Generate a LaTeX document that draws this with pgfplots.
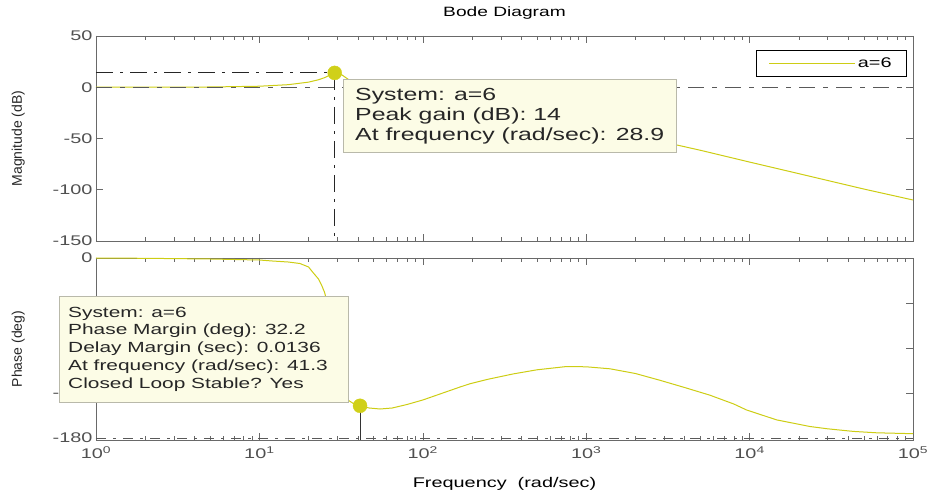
\documentclass[border=0pt]{standalone}
\usepackage{fontspec}
\setmainfont[FakeStretch=1.42]{Liberation Sans}
\newfontfamily\plainsans{Liberation Sans}
\usepackage{pgfplots}
\pgfplotsset{compat=1.18}
\definecolor{curve}{RGB}{205,205,20}
\definecolor{dotc}{RGB}{208,208,25}
\definecolor{boxfill}{RGB}{252,252,230}
\definecolor{boxdraw}{RGB}{185,185,170}
\definecolor{axgray}{RGB}{105,105,105}
\definecolor{lblgray}{RGB}{80,80,80}

\pgfplotstableread{
w mag
1 0
2 0.05
5 0.25
10 1.0
15 2.5
20 5.0
23 7.3
25 9.3
27 11.8
28 13.0
28.9 14.0
30 13.8
32 12.0
35 7.7
41.3 0
50 -4.5
70 -11.7
100 -17.8
200 -27.0
500 -36.3
1000 -42.6
2000 -49.2
3580 -56.3
5000 -61.5
10000 -73.0
20000 -84.3
50000 -99.3
100000 -110.0
}\magtable

\pgfplotstableread{
w ph
1 0
2 -0.3
5 -1
10 -2
12 -3
15 -4
17.7 -5.5
20 -9
21.4 -15
23 -21
24 -27
25 -34
25.8 -42
27 -60
28 -82
29 -100
30 -113
32 -128
34.8 -142
38 -146
41.3 -147.8
47 -150
54.7 -151
65 -150
80 -146.5
100 -142
130 -135.5
169 -129
194 -125.8
250 -121.3
358 -115.9
500 -111.8
760 -108.5
1000 -108.8
1400 -110.8
2000 -115.5
2830 -122.3
4000 -129.5
5720 -137.2
8000 -146
9590 -152
14650 -161.9
23400 -168.5
30000 -170.8
43100 -173.4
60000 -174.8
100000 -175.7
}\phtable

\begin{document}
\begin{tikzpicture}
\useasboundingbox (0pt,0pt) rectangle (931pt,498pt);
% Magnitude
\begin{semilogxaxis}[scale only axis, width=817pt, height=205pt, at={(96pt,257pt)}, anchor=south west,
  xmin=1, xmax=100000,
  xtick={1,10,100,1000,10000,100000},
  major tick length=7pt, minor tick length=4pt,
  axis line style={axgray, line width=0.6pt}, tick style={axgray, line width=0.5pt},
  tick label style={font=\fontsize{14}{16}\selectfont, text=lblgray},
  ymin=-150, ymax=50, ytick={-150,-100,-50,0,50}, yticklabels={-150,-100,-50,0,50},
  xticklabels={{},{},{},{},{},{}},
  title={Bode Diagram},
  title style={at={(axis description cs:0.5,1.083)}, anchor=center, font=\fontsize{13.5}{16}\selectfont, text=black},
  ylabel={Magnitude (dB)},
  ylabel style={at={(axis description cs:-0.0951,0.5)}, rotate=0, anchor=center, font=\plainsans\fontsize{14}{16}\selectfont, text=black!85},
  legend style={at={(axis description cs:0.9927,0.9317)}, anchor=north east, draw=black, line width=0.8pt, fill=white,
    font=\fontsize{14}{16}\selectfont, inner xsep=13pt, inner ysep=5.5pt},
  legend image code/.code={\draw[#1, line width=1pt] (0pt,0pt) -- (79pt,0pt); \path (0pt,0pt) -- (86pt,0pt);},
]
\addplot[curve, line width=1pt] table[x=w, y=mag] {\magtable};
\addlegendentry{a=6}
\addplot[black!65, line width=0.8pt, dash pattern=on 16pt off 8pt on 5pt off 8pt, forget plot] coordinates {(1,0) (100000,0)};
\addplot[black!85, line width=1.1pt, dash pattern=on 17pt off 7pt on 3pt off 7pt, forget plot] coordinates {(1,14) (28.9,14)};
\addplot[black!85, line width=1.1pt, dash pattern=on 17pt off 7pt on 3pt off 7pt, forget plot] coordinates {(28.9,14) (28.9,-150)};
\addplot[only marks, mark=*, mark size=7pt, dotc, forget plot] coordinates {(28.9,14)};
\end{semilogxaxis}
% Phase
\begin{semilogxaxis}[scale only axis, width=817pt, height=182pt, at={(96pt,58pt)}, anchor=south west,
  xmin=1, xmax=100000,
  xtick={1,10,100,1000,10000,100000},
  major tick length=7pt, minor tick length=4pt,
  axis line style={axgray, line width=0.6pt}, tick style={axgray, line width=0.5pt},
  tick label style={font=\fontsize{14}{16}\selectfont, text=lblgray},
  ymin=-182, ymax=0, ytick={-180,-135,-90,-45,0}, yticklabels={-180,-135,-90,-45,0},
  xticklabels={10\textsuperscript{0},10\textsuperscript{1},10\textsuperscript{2},10\textsuperscript{3},10\textsuperscript{4},10\textsuperscript{5}},
  xticklabel style={yshift=-3pt},
  xlabel={Frequency \ (rad/sec)},
  xlabel style={at={(axis description cs:0.5,-0.242)}, anchor=center, font=\fontsize{14}{16}\selectfont, text=black},
  ylabel={Phase (deg)},
  ylabel style={at={(axis description cs:-0.0951,0.5)}, rotate=0, anchor=center, font=\plainsans\fontsize{14}{16}\selectfont, text=black!85},
]
\addplot[black!65, line width=0.8pt, dash pattern=on 10pt off 7pt on 3pt off 7pt] coordinates {(1,-180) (100000,-180)};
\addplot[curve, line width=1pt] table[x=w, y=ph] {\phtable};
\addplot[black!80, line width=1pt] coordinates {(41.3,-147.8) (41.3,-182)};
\addplot[only marks, mark=*, mark size=7pt, dotc] coordinates {(41.3,-147.8)};
\end{semilogxaxis}
% data tip boxes
\filldraw[fill=boxfill, draw=boxdraw, line width=0.6pt] (343pt,346pt) rectangle (676pt,419pt);
\node[anchor=west, align=left, font=\fontsize{17.5}{20.3}\selectfont, text=black!85, inner sep=0pt] at (355pt,381.7pt)
  {System: a=6\\Peak gain (dB): 14\\At frequency (rad/sec): 28.9};
\filldraw[fill=boxfill, draw=boxdraw, line width=0.6pt] (59pt,96pt) rectangle (348pt,201.5pt);
\node[anchor=west, align=left, font=\fontsize{14.7}{17.7}\selectfont, text=black!85, inner sep=0pt] at (68pt,149pt)
  {System: a=6\\Phase Margin (deg): 32.2\\Delay Margin (sec): 0.0136\\At frequency (rad/sec): 41.3\\Closed Loop Stable? Yes};
\end{tikzpicture}
\end{document}
